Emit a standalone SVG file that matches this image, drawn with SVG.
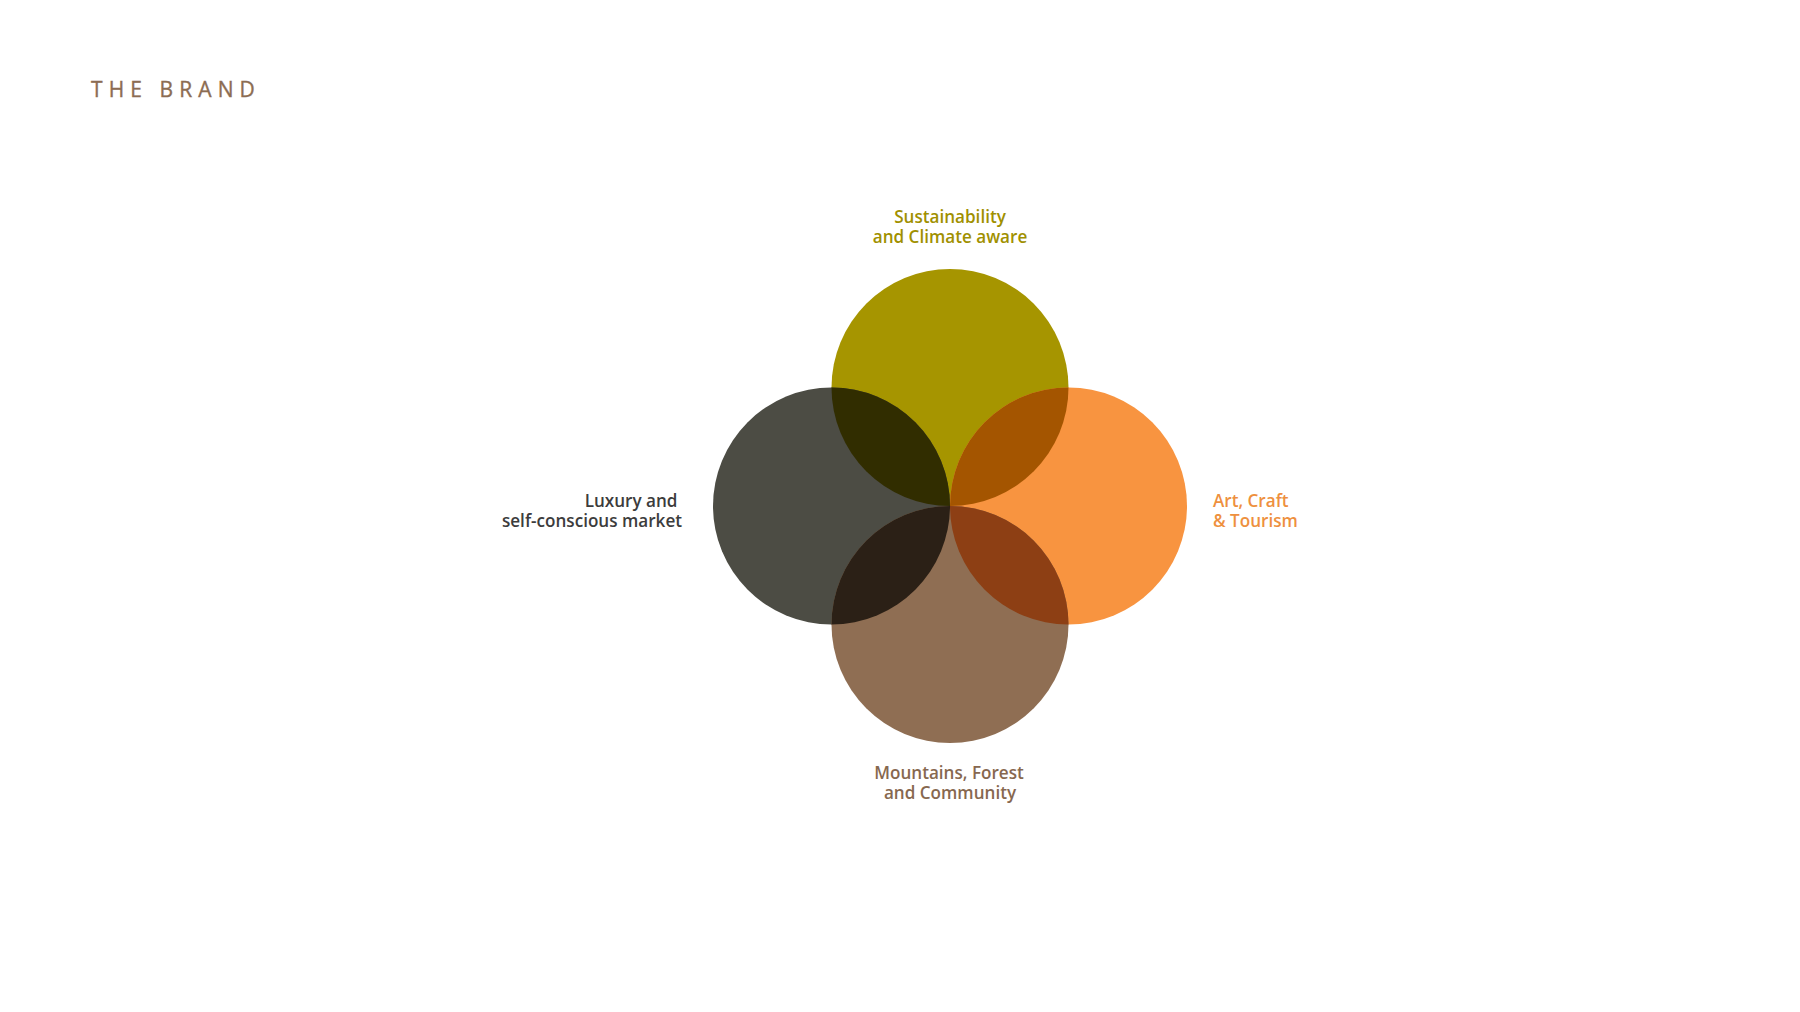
<svg xmlns="http://www.w3.org/2000/svg" width="1800" height="1012" viewBox="0 0 1800 1012">
<style>
.lbl{font-family:"Open Sans","Liberation Sans",sans-serif;font-size:17.1px;font-weight:600}
.title{font-family:"Open Sans","Liberation Sans",sans-serif;font-size:21px;font-weight:400;letter-spacing:6.1px;fill:#8C6C52;stroke:#8C6C52;stroke-width:0.35px}
</style>
<defs>
<clipPath id="cTop"><circle cx="950" cy="387.5" r="118.5"/></clipPath>
<clipPath id="cBot"><circle cx="950" cy="624.5" r="118.5"/></clipPath>
</defs>
<rect width="1800" height="1012" fill="#ffffff"/>
<text class="title" x="91" y="97.2">THE BRAND</text>
<g id="sustainability">
<circle cx="950" cy="387.5" r="118.5" fill="#A69500"/>
<text class="lbl" fill="#A09000" text-anchor="middle"><tspan x="950" y="222.5">Sustainability</tspan><tspan x="950" y="242.7">and Climate aware</tspan></text>
</g>
<g id="luxury">
<circle cx="831.5" cy="506" r="118.5" fill="#4C4C44"/>
<text class="lbl" fill="#3C3C3C" text-anchor="end"><tspan x="677.5" y="506.7">Luxury and</tspan><tspan x="682" y="526.5">self-conscious market</tspan></text>
</g>
<g id="art">
<circle cx="1068.5" cy="506" r="118.5" fill="#F89440"/>
<text class="lbl" fill="#EE903E"><tspan x="1213" y="506.5">Art, Craft</tspan><tspan x="1213" y="526.5">&amp; Tourism</tspan></text>
</g>
<g id="mountains">
<circle cx="950" cy="624.5" r="118.5" fill="#8F6E53"/>
<text class="lbl" fill="#87684F" text-anchor="middle"><tspan x="949" y="779">Mountains, Forest</tspan><tspan x="950" y="798.5">and Community</tspan></text>
</g>
<g id="overlaps">
<circle cx="831.5" cy="506" r="118.5" fill="#312D00" clip-path="url(#cTop)"/>
<circle cx="1068.5" cy="506" r="118.5" fill="#A45500" clip-path="url(#cTop)"/>
<circle cx="831.5" cy="506" r="118.5" fill="#2B2016" clip-path="url(#cBot)"/>
<circle cx="1068.5" cy="506" r="118.5" fill="#8D3F14" clip-path="url(#cBot)"/>
</g>
</svg>
